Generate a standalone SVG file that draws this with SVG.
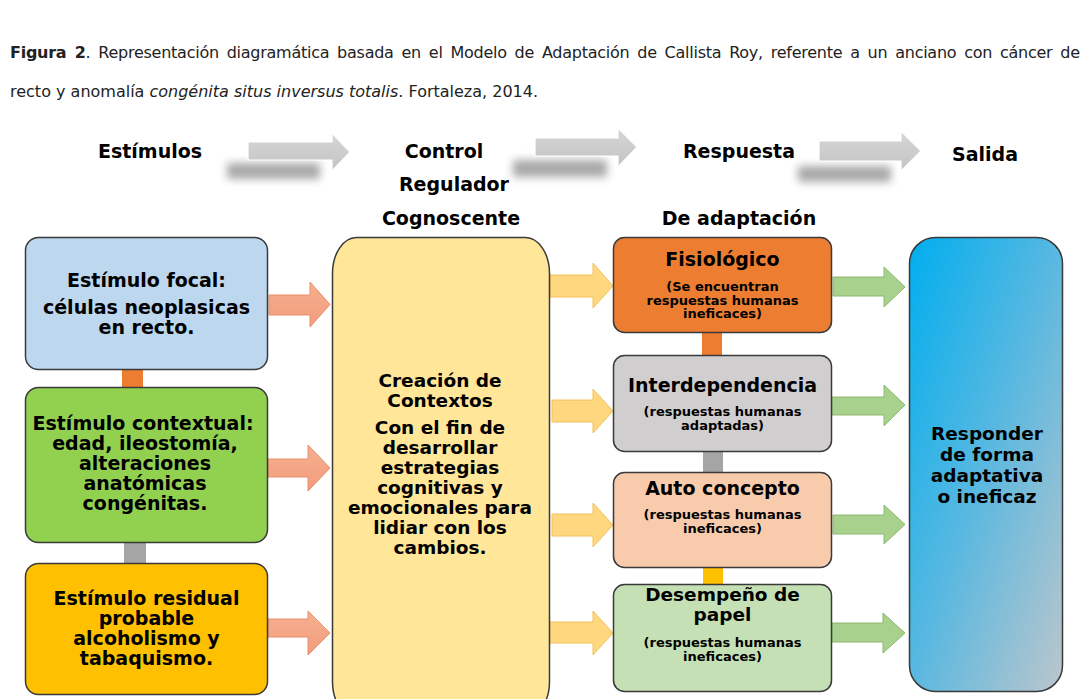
<svg xmlns="http://www.w3.org/2000/svg" width="1090" height="699" viewBox="0 0 1090 699">
<defs>
<style>
.t{font-family:"DejaVu Sans",Verdana,sans-serif;font-weight:bold;fill:#000;text-anchor:middle}
.h{font-size:19px}
.b{font-size:18.5px}
.s{font-size:13px}
.cap{font-family:"DejaVu Sans",Verdana,sans-serif;font-size:16px;fill:#222}
.box{stroke:#3a3a3a;stroke-width:1.5}
.sal{fill:url(#gs);stroke:#e98e6e;stroke-width:1}
.yel{fill:#ffd77e;stroke:#f2c25a;stroke-width:1}
.grn{fill:#a9d18e;stroke:#8cb970;stroke-width:1}
.gry{fill:url(#gg);stroke:#ffffff;stroke-width:1.2}
.shd{fill:#7a7a7a;opacity:0.65;filter:url(#blur)}
</style>
<linearGradient id="gb" x1="0" y1="0" x2="1" y2="1">
<stop offset="0" stop-color="#00aeef"/>
<stop offset="0.5" stop-color="#5ab8e0"/>
<stop offset="1" stop-color="#bcc6cc"/>
</linearGradient>
<linearGradient id="gs" x1="0" y1="0" x2="0" y2="1">
<stop offset="0" stop-color="#f6b08f"/>
<stop offset="1" stop-color="#f29c7c"/>
</linearGradient>
<linearGradient id="gg" x1="0" y1="0" x2="0" y2="1">
<stop offset="0" stop-color="#d6d6d6"/>
<stop offset="1" stop-color="#c4c4c4"/>
</linearGradient>
<filter id="blur" x="-30%" y="-120%" width="160%" height="340%"><feGaussianBlur stdDeviation="4.5"/></filter>
</defs>
<rect width="1090" height="699" fill="#ffffff"/>

<g id="caption">
<text class="cap" x="10" y="58" word-spacing="3" textLength="1070" lengthAdjust="spacing"><tspan font-weight="bold">Figura 2</tspan>. Representación diagramática basada en el Modelo de Adaptación de Callista Roy, referente a un anciano con cáncer de</text>
<text class="cap" x="10" y="97">recto y anomalía <tspan font-style="italic">congénita situs inversus totalis</tspan>. Fortaleza, 2014.</text>
</g>

<g id="headers">
<text class="t h" x="150" y="158">Estímulos</text>
<text class="t h" x="444" y="158">Control</text>
<text class="t h" x="454" y="191">Regulador</text>
<text class="t h" x="451" y="225">Cognoscente</text>
<text class="t h" x="739" y="158">Respuesta</text>
<text class="t h" x="739" y="225">De adaptación</text>
<text class="t h" x="985" y="161">Salida</text>
</g>

<g id="connectors">
<rect class="shd" x="227" y="163" width="93" height="16"/>
<path class="gry" d="M248,142 H332 V133 L350,152 L332,171 V160 H248 Z"/>
<rect class="shd" x="513" y="160" width="94" height="17"/>
<path class="gry" d="M535,138 H618 V128 L637,147 L618,167 V156 H535 Z"/>
<rect class="shd" x="798" y="166" width="93" height="16"/>
<path class="gry" d="M819,141 H901 V131 L921,151 L901,171 V161 H819 Z"/>

<rect x="122" y="369" width="21" height="19" fill="#ed7d31"/>
<rect x="124" y="542" width="22" height="22" fill="#a5a5a5"/>
<rect x="702" y="332" width="20" height="24" fill="#ed7d31"/>
<rect x="703" y="451" width="20" height="22" fill="#a5a5a5"/>
<rect x="703" y="567" width="20" height="18" fill="#ffc000"/>

<path class="sal" d="M269,295 H310 V282 L330,304.5 L310,327 V315 H269 Z"/>
<path class="sal" d="M268,459 H308 V445 L330,468 L308,491 V477 H268 Z"/>
<path class="sal" d="M268,619 H308 V611 L330,633 L308,655 V637 H268 Z"/>

<path class="yel" d="M550,275 H593 V263 L613,286 L593,308 V297 H550 Z"/>
<path class="yel" d="M552,400 H593 V389 L613,411 L593,433 V422 H552 Z"/>
<path class="yel" d="M552,514 H593 V503 L613,525 L593,547 V536 H552 Z"/>
<path class="yel" d="M548,622 H593 V611 L613,633 L593,655 V643 H548 Z"/>

<path class="grn" d="M833,277 H884 V267 L905,287 L884,307 V296 H833 Z"/>
<path class="grn" d="M832,397 H884 V385 L905,405 L884,426 V415 H832 Z"/>
<path class="grn" d="M833,515 H884 V505 L905,524.5 L884,544 V534 H833 Z"/>
<path class="grn" d="M832,623 H883 V613 L905,633 L883,653 V642 H832 Z"/>
</g>

<g id="focal">
<rect class="box" x="25.5" y="237.5" width="242" height="132" rx="13" fill="#bdd7ee"/>
<text class="t h" x="146.5" y="287">Estímulo focal:</text>
<text class="t h" x="146.5" y="314">células neoplasicas</text>
<text class="t h" x="146.5" y="334">en recto.</text>
</g>

<g id="contextual">
<rect class="box" x="25.5" y="387.5" width="242" height="155" rx="13" fill="#92d050"/>
<text class="t h" x="143" y="430">Estímulo contextual:</text>
<text class="t h" x="145" y="450">edad, ileostomía,</text>
<text class="t h" x="145" y="470">alteraciones</text>
<text class="t h" x="145" y="490">anatómicas</text>
<text class="t h" x="145" y="510">congénitas.</text>
</g>

<g id="residual">
<rect class="box" x="25.5" y="563.5" width="242" height="131" rx="13" fill="#ffc000"/>
<text class="t h" x="146.5" y="605">Estímulo residual</text>
<text class="t h" x="146.5" y="625">probable</text>
<text class="t h" x="146.5" y="645">alcoholismo y</text>
<text class="t h" x="146.5" y="665">tabaquismo.</text>
</g>

<g id="creacion">
<rect class="box" x="332.5" y="237.5" width="217" height="480" rx="24" ry="36" fill="#ffe699"/>
<text class="t b" x="440" y="387">Creación de</text>
<text class="t b" x="440" y="407">Contextos</text>
<text class="t b" x="440" y="434">Con el fin de</text>
<text class="t b" x="440" y="454">desarrollar</text>
<text class="t b" x="440" y="474">estrategias</text>
<text class="t b" x="440" y="494">cognitivas y</text>
<text class="t b" x="440" y="514">emocionales para</text>
<text class="t b" x="440" y="534">lidiar con los</text>
<text class="t b" x="440" y="554">cambios.</text>
</g>

<g id="fisiologico">
<rect class="box" x="613.5" y="237.5" width="218" height="95" rx="11" fill="#ed7d31"/>
<text class="t h" x="722.5" y="266">Fisiológico</text>
<text class="t s" x="722.5" y="291">(Se encuentran</text>
<text class="t s" x="722.5" y="304.5">respuestas humanas</text>
<text class="t s" x="722.5" y="318">ineficaces)</text>
</g>

<g id="interdependencia">
<rect class="box" x="613.5" y="355.5" width="218" height="96" rx="11" fill="#d0cece"/>
<text class="t h" x="722.5" y="392">Interdependencia</text>
<text class="t s" x="722.5" y="416">(respuestas humanas</text>
<text class="t s" x="722.5" y="430">adaptadas)</text>
</g>

<g id="autoconcepto">
<rect class="box" x="613.5" y="472.5" width="218" height="95" rx="11" fill="#f8cbad"/>
<text class="t h" x="722.5" y="495">Auto concepto</text>
<text class="t s" x="722.5" y="519">(respuestas humanas</text>
<text class="t s" x="722.5" y="533">ineficaces)</text>
</g>

<g id="desempeno">
<rect class="box" x="613.5" y="584.5" width="218" height="107" rx="11" fill="#c5e0b4"/>
<text class="t" font-size="18.5" x="722.5" y="601">Desempeño de</text>
<text class="t" font-size="18.5" x="722.5" y="621">papel</text>
<text class="t s" x="722.5" y="647">(respuestas humanas</text>
<text class="t s" x="722.5" y="661">ineficaces)</text>
</g>

<g id="salida">
<rect class="box" x="909.5" y="237.5" width="153" height="454" rx="26" fill="url(#gb)"/>
<text class="t b" x="987" y="440">Responder</text>
<text class="t b" x="987" y="461">de forma</text>
<text class="t b" x="987" y="482">adaptativa</text>
<text class="t b" x="987" y="503">o ineficaz</text>
</g>
</svg>
